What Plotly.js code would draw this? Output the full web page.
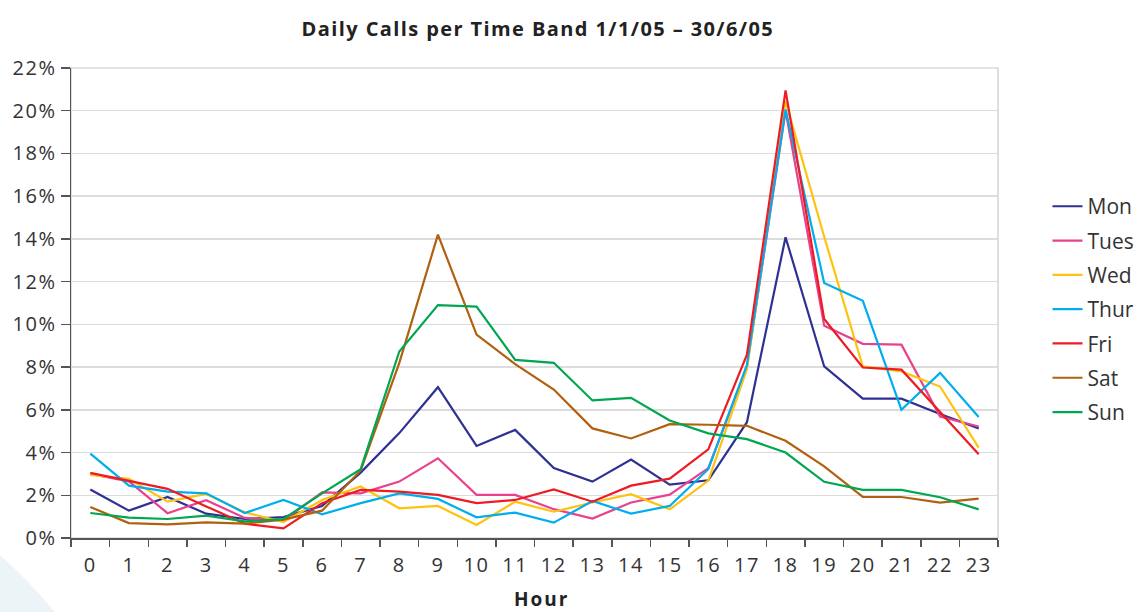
<!DOCTYPE html>
<html>
<head>
<meta charset="utf-8">
<script src="https://cdn.plot.ly/plotly-3.0.1.min.js"></script>
<style>
html,body{margin:0;padding:0;background:#fff;}
#chart{width:1142px;height:612px;}
.xtick text,.ytick text{letter-spacing:1.5px;}
.gtitle{letter-spacing:1.4px;}
.annotation-text{letter-spacing:2px;}
</style>
</head>
<body>
<div id="chart"></div>
<script>
const hours = ["0","1","2","3","4","5","6","7","8","9","10","11","12","13","14","15","16","17","18","19","20","21","22","23"];
const seriesNames = ["Mon","Tues","Wed","Thur","Fri","Sat","Sun"];
const mon  = [2.27,1.28,1.92,1.14,0.89,0.98,1.5,3.06,4.91,7.06,4.31,5.06,3.27,2.64,3.67,2.5,2.7,5.42,14.08,8.03,6.52,6.52,5.8,5.13];
const tues = [3.0,2.65,1.16,1.77,0.94,0.83,2.14,2.09,2.64,3.73,2.02,2.02,1.35,0.91,1.66,2.03,3.27,8.0,20.0,9.94,9.09,9.05,5.69,5.22];
const wed  = [2.95,2.77,1.7,2.06,1.2,0.75,1.78,2.41,1.39,1.5,0.61,1.7,1.23,1.66,2.05,1.34,2.69,7.9,20.45,14.1,8.03,7.8,7.09,4.23];
const thur = [3.95,2.45,2.17,2.09,1.17,1.78,1.11,1.63,2.09,1.83,0.97,1.19,0.72,1.73,1.14,1.5,3.22,8.1,20.06,11.94,11.1,6.0,7.73,5.66];
const fri  = [3.05,2.66,2.3,1.48,0.67,0.45,1.63,2.25,2.17,2.02,1.63,1.78,2.27,1.7,2.45,2.78,4.15,8.58,20.95,10.25,7.98,7.88,5.9,3.92];
const sat  = [1.45,0.7,0.64,0.73,0.67,0.86,1.28,3.16,8.2,14.2,9.52,8.14,6.95,5.13,4.66,5.33,5.3,5.25,4.55,3.35,1.92,1.92,1.66,1.84];
const sun  = [1.17,0.95,0.89,1.05,0.78,0.89,2.09,3.22,8.73,10.9,10.83,8.34,8.2,6.44,6.56,5.5,4.9,4.63,4.0,2.63,2.25,2.25,1.91,1.34];
const seriesValues = [mon,tues,wed,thur,fri,sat,sun];
const seriesColors = ["#2e3192","#e8428f","#ffc20e","#00aeef","#ed1c24","#b0600f","#00a651"];
const yTickVals = [0,2,4,6,8,10,12,14,16,18,20,22];
const yTickText = yTickVals.map(v => v + "%");
const xAxisTitle = "Hour";

const traces = seriesNames.map((n, i) => ({
  type: "scatter", mode: "lines", name: n, x: hours, y: seriesValues[i],
  line: {color: seriesColors[i], width: 2.2},
  legendgroup: n
}));

const font = "Open Sans, Noto Sans, sans-serif";
const layout = {
  width: 1142, height: 612,
  margin: {l: 71, r: 144, t: 68, b: 74, autoexpand: false},
  paper_bgcolor: "#fff", plot_bgcolor: "#fff",
  showlegend: true,
  title: {text: "<b>Daily Calls per Time Band 1/1/05 – 30/6/05</b>", font: {family: font, size: 20, color: "#222"}, x: 0.471, xanchor: "center", y: 0.953, yanchor: "middle"},
  xaxis: {
    type: "category", range: [-0.5, 23.5], tickson: "boundaries",
    ticks: "outside", ticklen: 7, tickwidth: 1.5, tickcolor: "#555",
    ticklabelstandoff: 8,
    showline: true, linecolor: "#555", linewidth: 1.5,
    showgrid: false, zeroline: false,
    tickfont: {family: font, size: 20, color: "#333"}
  },
  yaxis: {
    range: [0, 22], tickvals: yTickVals, ticktext: yTickText,
    ticks: "outside", ticklen: 9, tickwidth: 1.5, tickcolor: "#555",
    showline: true, linecolor: "#555", linewidth: 1.5,
    showgrid: true, gridcolor: "#dcdcdc", gridwidth: 1.5, zeroline: false,
    tickfont: {family: font, size: 20, color: "#333"}
  },
  legend: {
    x: 1.0534, xanchor: "left", y: 0.486, yanchor: "middle",
    font: {family: font, size: 21, color: "#333"},
    tracegroupgap: 4, itemwidth: 30, bgcolor: "rgba(0,0,0,0)"
  },
  annotations: [
    {text: "<b>" + xAxisTitle + "</b>", xref: "paper", yref: "paper", x: 0.508, y: -0.1298, xanchor: "center", yanchor: "middle", showarrow: false, borderpad: 0, font: {family: font, size: 19, color: "#222"}}
  ],
  shapes: [
    {type: "circle", xref: "paper", yref: "paper", x0: -0.893, x1: 0.0928, y0: 0.202, y1: -1.743, fillcolor: "#ecf4f8", line: {width: 0}, layer: "below"},
    {type: "rect", xref: "paper", yref: "paper", x0: 0, x1: 1, y0: 0, y1: 1, line: {color: "#c8c8c8", width: 1.2}, layer: "below"}
  ]
};
Plotly.newPlot("chart", traces, layout, {displayModeBar: false, staticPlot: true});
</script>
</body>
</html>
